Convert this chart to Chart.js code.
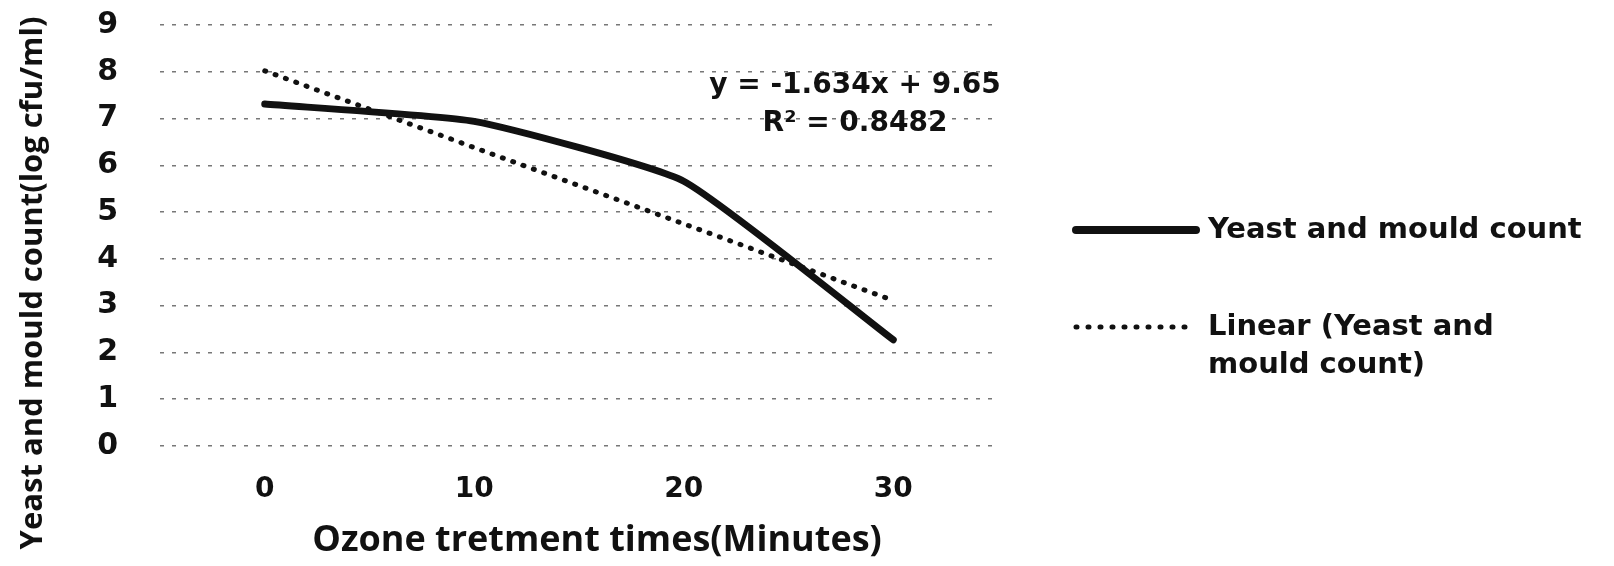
<!DOCTYPE html>
<html>
<head>
<meta charset="utf-8">
<script src="https://cdn.jsdelivr.net/npm/chart.js@4.4.1/dist/chart.umd.min.js"></script>
<style>
    body { margin: 0; background: #fff; }
    #wrap { width: 1614px; height: 566px; }
</style>
</head>
<body>
<div id="wrap"><canvas id="ymChart" width="1614" height="566"></canvas></div>
<script>
const categories = ['0', '10', '20', '30']
const countValues = [7.31, 6.94, 5.66, 2.27]
const trendValues = [8.02, 6.38, 4.75, 3.11]
const yMin = 0
const yMax = 9
const equationLines = ['y = -1.634x + 9.65', 'R\u00B2 = 0.8482']
const seriesLabel = 'Yeast and mould count'
const trendLabelLines = ['Linear (Yeast and', 'mould count)']
const xTitle = 'Ozone tretment times(Minutes)'
const yTitle = 'Yeast and mould count(log cfu/ml)'

// titles, equation and legend drawn on the canvas
const extrasPlugin = {
    id: 'extras',
    afterDraw(chart) {
        const ctx = chart.ctx
        ctx.save()
        ctx.fillStyle = '#111'
        ctx.textBaseline = 'middle'

        ctx.font = 'bold 36px "Open Sans"'
        ctx.textAlign = 'center'
        ctx.fillText(xTitle, 597, 541)

        ctx.save()
        ctx.translate(33, 283)
        ctx.rotate(-Math.PI / 2)
        ctx.font = 'bold 31px "Open Sans"'
        ctx.fillText(yTitle, 0, 0)
        ctx.restore()

        ctx.font = 'bold 28px "DejaVu Sans"'
        ctx.fillText(equationLines[0], 855, 86)
        ctx.fillText(equationLines[1], 855, 124)

        // legend
        ctx.strokeStyle = '#111'
        ctx.lineCap = 'round'
        ctx.lineWidth = 8
        ctx.beginPath()
        ctx.moveTo(1076, 230)
        ctx.lineTo(1196, 230)
        ctx.stroke()

        ctx.lineWidth = 5
        ctx.setLineDash([1, 11])
        ctx.beginPath()
        ctx.moveTo(1076, 327)
        ctx.lineTo(1190, 327)
        ctx.stroke()
        ctx.setLineDash([])

        ctx.textAlign = 'left'
        ctx.font = 'bold 29px "DejaVu Sans"'
        ctx.fillText(seriesLabel, 1208, 230)
        ctx.fillText(trendLabelLines[0], 1208, 327)
        ctx.fillText(trendLabelLines[1], 1208, 365)
        ctx.restore()
    }
}

new Chart(document.getElementById('ymChart'), {
    type: 'line',
    data: {
        labels: categories,
        datasets: [
            {
                label: seriesLabel,
                data: countValues,
                borderColor: '#111',
                borderWidth: 7,
                borderCapStyle: 'round',
                borderJoinStyle: 'round',
                pointRadius: 0,
                tension: 0.15,
                fill: false
            },
            {
                label: 'Linear (' + seriesLabel + ')',
                data: trendValues,
                borderColor: '#111',
                borderWidth: 5,
                borderDash: [1, 10],
                borderCapStyle: 'round',
                pointRadius: 0,
                tension: 0,
                fill: false
            }
        ]
    },
    options: {
        responsive: false,
        animation: false,
        layout: {
            autoPadding: false,
            padding: { top: 25, right: 616, left: 0, bottom: 0 }
        },
        plugins: {
            legend: { display: false },
            tooltip: { enabled: false }
        },
        scales: {
            x: {
                offset: true,
                afterFit: scale => { scale.height = 120 },
                grid: { display: false, drawTicks: false },
                border: { display: false },
                ticks: {
                    padding: 27,
                    color: '#111',
                    font: { family: 'DejaVu Sans', size: 28, weight: 'bold' }
                }
            },
            y: {
                min: yMin,
                max: yMax,
                afterFit: scale => {
                    scale.width = 160
                    // big tick padding would otherwise push the plot down
                    scale.paddingTop = 0
                    scale.paddingBottom = 0
                },
                grid: {
                    color: '#777',
                    lineWidth: 1.5,
                    drawTicks: false
                },
                border: { display: false, dash: [4, 8] },
                ticks: {
                    stepSize: 1,
                    padding: 42,
                    color: '#111',
                    font: { family: 'DejaVu Sans', size: 30, weight: 'bold' }
                }
            }
        }
    },
    plugins: [extrasPlugin]
})
</script>
</body>
</html>
